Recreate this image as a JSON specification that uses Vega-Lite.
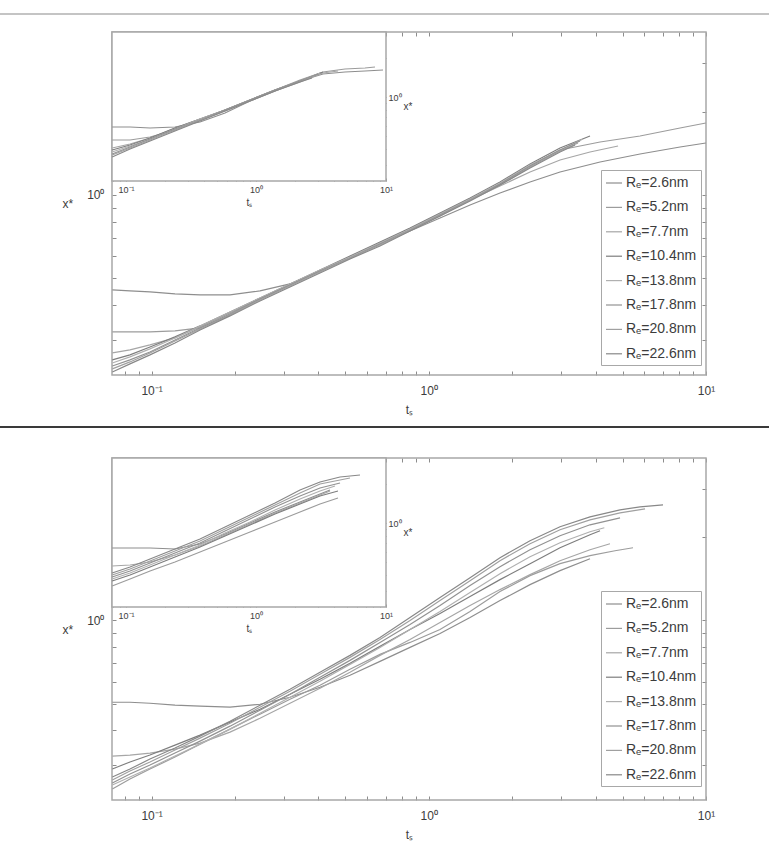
{
  "$schema": "https://vega.github.io/schema/vega-lite/v6.json",
  "width": 769,
  "height": 851,
  "padding": 0,
  "autosize": "none",
  "background": "white",
  "datasets": {
    "topMain": [
      {"R":2.6,"t":0.0722,"xs":0.4541},{"R":2.6,"t":0.0836,"xs":0.4503},{"R":2.6,"t":0.0987,"xs":0.4466},{"R":2.6,"t":0.1215,"xs":0.4392},{"R":2.6,"t":0.1496,"xs":0.4356},{"R":2.6,"t":0.1919,"xs":0.4356},{"R":2.6,"t":0.2461,"xs":0.4503},{"R":2.6,"t":0.3158,"xs":0.4773},{"R":2.6,"t":0.4052,"xs":0.5318},{"R":2.6,"t":0.5198,"xs":0.5924},{"R":2.6,"t":0.6669,"xs":0.6656},{"R":2.6,"t":0.8557,"xs":0.7415},{"R":2.6,"t":1.098,"xs":0.8260},{"R":2.6,"t":1.409,"xs":0.9203},{"R":2.6,"t":1.807,"xs":1.0168},{"R":2.6,"t":2.319,"xs":1.1141},{"R":2.6,"t":2.975,"xs":1.2107},{"R":2.6,"t":4.148,"xs":1.3156},{"R":2.6,"t":5.782,"xs":1.4060},{"R":2.6,"t":8.061,"xs":1.4902},{"R":2.6,"t":9.99,"xs":1.5406},
      {"R":5.2,"t":0.0722,"xs":0.3203},{"R":5.2,"t":0.0836,"xs":0.3203},{"R":5.2,"t":0.0987,"xs":0.3203},{"R":5.2,"t":0.1215,"xs":0.3230},{"R":5.2,"t":0.1496,"xs":0.3311},{"R":5.2,"t":0.1919,"xs":0.3689},{"R":5.2,"t":0.2461,"xs":0.4213},{"R":5.2,"t":0.3158,"xs":0.4734},{"R":5.2,"t":0.4052,"xs":0.5318},{"R":5.2,"t":0.5198,"xs":0.5974},{"R":5.2,"t":0.6669,"xs":0.6711},{"R":5.2,"t":0.8557,"xs":0.7539},{"R":5.2,"t":1.098,"xs":0.8540},{"R":5.2,"t":1.409,"xs":0.9673},{"R":5.2,"t":1.807,"xs":1.0957},{"R":5.2,"t":2.319,"xs":1.2725},{"R":5.2,"t":2.975,"xs":1.4536},{"R":5.2,"t":4.148,"xs":1.5535},{"R":5.2,"t":5.782,"xs":1.6329},{"R":5.2,"t":8.061,"xs":1.7450},{"R":5.2,"t":9.99,"xs":1.8192},
      {"R":7.7,"t":0.0722,"xs":0.2690},{"R":7.7,"t":0.0836,"xs":0.2758},{"R":7.7,"t":0.0987,"xs":0.2875},{"R":7.7,"t":0.1215,"xs":0.3047},{"R":7.7,"t":0.1496,"xs":0.3339},{"R":7.7,"t":0.1919,"xs":0.3751},{"R":7.7,"t":0.2461,"xs":0.4213},{"R":7.7,"t":0.3158,"xs":0.4734},{"R":7.7,"t":0.4052,"xs":0.5318},{"R":7.7,"t":0.5198,"xs":0.5974},{"R":7.7,"t":0.6669,"xs":0.6711},{"R":7.7,"t":0.8557,"xs":0.7539},{"R":7.7,"t":1.098,"xs":0.8540},{"R":7.7,"t":1.409,"xs":0.9594},{"R":7.7,"t":1.807,"xs":1.0776},{"R":7.7,"t":2.319,"xs":1.2107},{"R":7.7,"t":2.975,"xs":1.3377},{"R":7.7,"t":3.816,"xs":1.4296},{"R":7.7,"t":4.817,"xs":1.5026},
      {"R":10.4,"t":0.0722,"xs":0.2538},{"R":10.4,"t":0.0836,"xs":0.2646},{"R":10.4,"t":0.0987,"xs":0.2827},{"R":10.4,"t":0.1215,"xs":0.3073},{"R":10.4,"t":0.1496,"xs":0.3367},{"R":10.4,"t":0.1919,"xs":0.3782},{"R":10.4,"t":0.2461,"xs":0.4248},{"R":10.4,"t":0.3158,"xs":0.4773},{"R":10.4,"t":0.4052,"xs":0.5362},{"R":10.4,"t":0.5198,"xs":0.6024},{"R":10.4,"t":0.6669,"xs":0.6767},{"R":10.4,"t":0.8557,"xs":0.7602},{"R":10.4,"t":1.098,"xs":0.8611},{"R":10.4,"t":1.409,"xs":0.9754},{"R":10.4,"t":1.807,"xs":1.1141},{"R":10.4,"t":2.319,"xs":1.2939},{"R":10.4,"t":2.975,"xs":1.4778},{"R":10.4,"t":3.816,"xs":1.6329},
      {"R":13.8,"t":0.0722,"xs":0.2475},{"R":13.8,"t":0.0836,"xs":0.2602},{"R":13.8,"t":0.0987,"xs":0.2781},{"R":13.8,"t":0.1215,"xs":0.3047},{"R":13.8,"t":0.1496,"xs":0.3367},{"R":13.8,"t":0.1919,"xs":0.3782},{"R":13.8,"t":0.2461,"xs":0.4248},{"R":13.8,"t":0.3158,"xs":0.4773},{"R":13.8,"t":0.4052,"xs":0.5362},{"R":13.8,"t":0.5198,"xs":0.5974},{"R":13.8,"t":0.6669,"xs":0.6711},{"R":13.8,"t":0.8557,"xs":0.7539},{"R":13.8,"t":1.098,"xs":0.8540},{"R":13.8,"t":1.409,"xs":0.9673},{"R":13.8,"t":1.807,"xs":1.1049},{"R":13.8,"t":2.319,"xs":1.2832},{"R":13.8,"t":2.975,"xs":1.4536},{"R":13.8,"t":3.601,"xs":1.5926},
      {"R":17.8,"t":0.0722,"xs":0.2414},{"R":17.8,"t":0.0836,"xs":0.2538},{"R":17.8,"t":0.0987,"xs":0.2712},{"R":17.8,"t":0.1215,"xs":0.2997},{"R":17.8,"t":0.1496,"xs":0.3311},{"R":17.8,"t":0.1919,"xs":0.3720},{"R":17.8,"t":0.2461,"xs":0.4213},{"R":17.8,"t":0.3158,"xs":0.4734},{"R":17.8,"t":0.4052,"xs":0.5318},{"R":17.8,"t":0.5198,"xs":0.5924},{"R":17.8,"t":0.6669,"xs":0.6656},{"R":17.8,"t":0.8557,"xs":0.7477},{"R":17.8,"t":1.098,"xs":0.8469},{"R":17.8,"t":1.409,"xs":0.9594},{"R":17.8,"t":1.807,"xs":1.0957},{"R":17.8,"t":2.319,"xs":1.2725},{"R":17.8,"t":2.975,"xs":1.4536},{"R":17.8,"t":3.512,"xs":1.5665},
      {"R":20.8,"t":0.0722,"xs":0.2355},{"R":20.8,"t":0.0836,"xs":0.2496},{"R":20.8,"t":0.0987,"xs":0.2690},{"R":20.8,"t":0.1215,"xs":0.2972},{"R":20.8,"t":0.1496,"xs":0.3284},{"R":20.8,"t":0.1919,"xs":0.3689},{"R":20.8,"t":0.2461,"xs":0.4179},{"R":20.8,"t":0.3158,"xs":0.4695},{"R":20.8,"t":0.4052,"xs":0.5273},{"R":20.8,"t":0.5198,"xs":0.5924},{"R":20.8,"t":0.6669,"xs":0.6600},{"R":20.8,"t":0.8557,"xs":0.7477},{"R":20.8,"t":1.098,"xs":0.8399},{"R":20.8,"t":1.409,"xs":0.9594},{"R":20.8,"t":1.807,"xs":1.0866},{"R":20.8,"t":2.319,"xs":1.2620},{"R":20.8,"t":2.975,"xs":1.4415},{"R":20.8,"t":3.454,"xs":1.5406},
      {"R":22.6,"t":0.0722,"xs":0.2297},{"R":22.6,"t":0.0836,"xs":0.2455},{"R":22.6,"t":0.0987,"xs":0.2646},{"R":22.6,"t":0.1215,"xs":0.2923},{"R":22.6,"t":0.1496,"xs":0.3257},{"R":22.6,"t":0.1919,"xs":0.3659},{"R":22.6,"t":0.2461,"xs":0.4144},{"R":22.6,"t":0.3158,"xs":0.4656},{"R":22.6,"t":0.4052,"xs":0.5230},{"R":22.6,"t":0.5198,"xs":0.5875},{"R":22.6,"t":0.6669,"xs":0.6546},{"R":22.6,"t":0.8557,"xs":0.7415},{"R":22.6,"t":1.098,"xs":0.8399},{"R":22.6,"t":1.409,"xs":0.9514},{"R":22.6,"t":1.807,"xs":1.0866},{"R":22.6,"t":2.319,"xs":1.2515},{"R":22.6,"t":2.975,"xs":1.4296},{"R":22.6,"t":3.370,"xs":1.5152}
    ],
    "botMain": [
      {"R":2.6,"t":0.0722,"xs":0.5058},{"R":2.6,"t":0.0836,"xs":0.5058},{"R":2.6,"t":0.0987,"xs":0.5017},{"R":2.6,"t":0.1215,"xs":0.4935},{"R":2.6,"t":0.1496,"xs":0.4894},{"R":2.6,"t":0.1919,"xs":0.4854},{"R":2.6,"t":0.2461,"xs":0.4975},{"R":2.6,"t":0.3158,"xs":0.5273},{"R":2.6,"t":0.4052,"xs":0.5731},{"R":2.6,"t":0.5198,"xs":0.6332},{"R":2.6,"t":0.6669,"xs":0.7113},{"R":2.6,"t":0.8557,"xs":0.7991},{"R":2.6,"t":1.098,"xs":0.8976},{"R":2.6,"t":1.409,"xs":1.0253},{"R":2.6,"t":1.807,"xs":1.1808},{"R":2.6,"t":2.319,"xs":1.3487},{"R":2.6,"t":2.975,"xs":1.5152},{"R":2.6,"t":3.816,"xs":1.6742},
      {"R":5.2,"t":0.0722,"xs":0.2455},{"R":5.2,"t":0.0836,"xs":0.2668},{"R":5.2,"t":0.0987,"xs":0.2899},{"R":5.2,"t":0.1215,"xs":0.3203},{"R":5.2,"t":0.1496,"xs":0.3568},{"R":5.2,"t":0.1919,"xs":0.4042},{"R":5.2,"t":0.2461,"xs":0.4579},{"R":5.2,"t":0.3158,"xs":0.5186},{"R":5.2,"t":0.4052,"xs":0.5827},{"R":5.2,"t":0.5198,"xs":0.6656},{"R":5.2,"t":0.6669,"xs":0.7539},{"R":5.2,"t":0.8557,"xs":0.8329},{"R":5.2,"t":1.098,"xs":0.9280},{"R":5.2,"t":1.409,"xs":1.0776},{"R":5.2,"t":1.807,"xs":1.2725},{"R":5.2,"t":2.319,"xs":1.4536},{"R":5.2,"t":2.975,"xs":1.6059},{"R":5.2,"t":3.816,"xs":1.7165},{"R":5.2,"t":4.697,"xs":1.7892},{"R":5.2,"t":5.455,"xs":1.8344},
      {"R":7.7,"t":0.0722,"xs":0.3230},{"R":7.7,"t":0.0836,"xs":0.3257},{"R":7.7,"t":0.0987,"xs":0.3311},{"R":7.7,"t":0.1215,"xs":0.3423},{"R":7.7,"t":0.1496,"xs":0.3598},{"R":7.7,"t":0.1919,"xs":0.3942},{"R":7.7,"t":0.2461,"xs":0.4429},{"R":7.7,"t":0.3158,"xs":0.5017},{"R":7.7,"t":0.4052,"xs":0.5683},{"R":7.7,"t":0.5198,"xs":0.6492},{"R":7.7,"t":0.6669,"xs":0.7477},{"R":7.7,"t":0.8557,"xs":0.8540},{"R":7.7,"t":1.098,"xs":0.9835},{"R":7.7,"t":1.409,"xs":1.1328},{"R":7.7,"t":1.807,"xs":1.2939},{"R":7.7,"t":2.319,"xs":1.4656},{"R":7.7,"t":2.975,"xs":1.6465},{"R":7.7,"t":3.816,"xs":1.8041},{"R":7.7,"t":4.505,"xs":1.8963},
      {"R":10.4,"t":0.0722,"xs":0.2899},{"R":10.4,"t":0.0836,"xs":0.3073},{"R":10.4,"t":0.0987,"xs":0.3257},{"R":10.4,"t":0.1215,"xs":0.3539},{"R":10.4,"t":0.1496,"xs":0.3846},{"R":10.4,"t":0.1919,"xs":0.4284},{"R":10.4,"t":0.2461,"xs":0.4773},{"R":10.4,"t":0.3158,"xs":0.5406},{"R":10.4,"t":0.4052,"xs":0.6125},{"R":10.4,"t":0.5198,"xs":0.6995},{"R":10.4,"t":0.6669,"xs":0.8058},{"R":10.4,"t":0.8557,"xs":0.9280},{"R":10.4,"t":1.098,"xs":1.0598},{"R":10.4,"t":1.409,"xs":1.2208},{"R":10.4,"t":1.807,"xs":1.4060},{"R":10.4,"t":2.319,"xs":1.6059},{"R":10.4,"t":2.975,"xs":1.8344},{"R":10.4,"t":3.816,"xs":2.0435},{"R":10.4,"t":4.148,"xs":2.1127},
      {"R":13.8,"t":0.0722,"xs":0.2538},{"R":13.8,"t":0.0836,"xs":0.2712},{"R":13.8,"t":0.0987,"xs":0.2923},{"R":13.8,"t":0.1215,"xs":0.3230},{"R":13.8,"t":0.1496,"xs":0.3568},{"R":13.8,"t":0.1919,"xs":0.4042},{"R":13.8,"t":0.2461,"xs":0.4617},{"R":13.8,"t":0.3158,"xs":0.5273},{"R":13.8,"t":0.4052,"xs":0.6024},{"R":13.8,"t":0.5198,"xs":0.6937},{"R":13.8,"t":0.6669,"xs":0.7991},{"R":13.8,"t":0.8557,"xs":0.9280},{"R":13.8,"t":1.098,"xs":1.0776},{"R":13.8,"t":1.409,"xs":1.2620},{"R":13.8,"t":1.807,"xs":1.4778},{"R":13.8,"t":2.319,"xs":1.7023},{"R":13.8,"t":2.975,"xs":1.9122},{"R":13.8,"t":3.816,"xs":2.0952},{"R":13.8,"t":4.298,"xs":2.1661},
      {"R":17.8,"t":0.0722,"xs":0.2580},{"R":17.8,"t":0.0836,"xs":0.2781},{"R":17.8,"t":0.0987,"xs":0.2997},{"R":17.8,"t":0.1215,"xs":0.3311},{"R":17.8,"t":0.1496,"xs":0.3659},{"R":17.8,"t":0.1919,"xs":0.4144},{"R":17.8,"t":0.2461,"xs":0.4734},{"R":17.8,"t":0.3158,"xs":0.5406},{"R":17.8,"t":0.4052,"xs":0.6227},{"R":17.8,"t":0.5198,"xs":0.7172},{"R":17.8,"t":0.6669,"xs":0.8329},{"R":17.8,"t":0.8557,"xs":0.9673},{"R":17.8,"t":1.098,"xs":1.1328},{"R":17.8,"t":1.409,"xs":1.3377},{"R":17.8,"t":1.807,"xs":1.5665},{"R":17.8,"t":2.319,"xs":1.8041},{"R":17.8,"t":2.975,"xs":2.0269},{"R":17.8,"t":3.816,"xs":2.2206},{"R":17.8,"t":4.897,"xs":2.3539},
      {"R":20.8,"t":0.0722,"xs":0.2646},{"R":20.8,"t":0.0836,"xs":0.2851},{"R":20.8,"t":0.0987,"xs":0.3073},{"R":20.8,"t":0.1215,"xs":0.3395},{"R":20.8,"t":0.1496,"xs":0.3751},{"R":20.8,"t":0.1919,"xs":0.4248},{"R":20.8,"t":0.2461,"xs":0.4854},{"R":20.8,"t":0.3158,"xs":0.5543},{"R":20.8,"t":0.4052,"xs":0.6384},{"R":20.8,"t":0.5198,"xs":0.7354},{"R":20.8,"t":0.6669,"xs":0.8540},{"R":20.8,"t":0.8557,"xs":1.0000},{"R":20.8,"t":1.098,"xs":1.1808},{"R":20.8,"t":1.409,"xs":1.3943},{"R":20.8,"t":1.807,"xs":1.6465},{"R":20.8,"t":2.319,"xs":1.8963},{"R":20.8,"t":2.975,"xs":2.1304},{"R":20.8,"t":3.816,"xs":2.3150},{"R":20.8,"t":4.897,"xs":2.4536},{"R":20.8,"t":6.027,"xs":2.5367},
      {"R":22.6,"t":0.0722,"xs":0.2712},{"R":22.6,"t":0.0836,"xs":0.2899},{"R":22.6,"t":0.0987,"xs":0.3150},{"R":22.6,"t":0.1215,"xs":0.3452},{"R":22.6,"t":0.1496,"xs":0.3814},{"R":22.6,"t":0.1919,"xs":0.4320},{"R":22.6,"t":0.2461,"xs":0.4935},{"R":22.6,"t":0.3158,"xs":0.5636},{"R":22.6,"t":0.4052,"xs":0.6492},{"R":22.6,"t":0.5198,"xs":0.7477},{"R":22.6,"t":0.6669,"xs":0.8683},{"R":22.6,"t":0.8557,"xs":1.0253},{"R":22.6,"t":1.098,"xs":1.2107},{"R":22.6,"t":1.409,"xs":1.4296},{"R":22.6,"t":1.807,"xs":1.6882},{"R":22.6,"t":2.319,"xs":1.9443},{"R":22.6,"t":2.975,"xs":2.1842},{"R":22.6,"t":3.816,"xs":2.3736},{"R":22.6,"t":4.897,"xs":2.5156},{"R":22.6,"t":5.782,"xs":2.5792},{"R":22.6,"t":6.998,"xs":2.6225}
    ],
    "topInset": [
      {"R":2.6,"t":0.0782,"xs":0.5878},{"R":2.6,"t":0.1074,"xs":0.5878},{"R":2.6,"t":0.1530,"xs":0.5775},{"R":2.6,"t":0.2381,"xs":0.5878},{"R":2.6,"t":0.3709,"xs":0.6423},{"R":2.6,"t":0.5776,"xs":0.7532},{"R":2.6,"t":0.8993,"xs":0.9316},{"R":2.6,"t":1.4003,"xs":1.1121},{"R":2.6,"t":2.180,"xs":1.3276},{"R":2.6,"t":3.277,"xs":1.5029},{"R":2.6,"t":4.837,"xs":1.5571},{"R":2.6,"t":6.895,"xs":1.5849},{"R":2.6,"t":9.483,"xs":1.6132},
      {"R":5.2,"t":0.0782,"xs":0.4669},{"R":5.2,"t":0.1074,"xs":0.4669},{"R":5.2,"t":0.1530,"xs":0.4924},{"R":5.2,"t":0.2381,"xs":0.5574},{"R":5.2,"t":0.3709,"xs":0.6654},{"R":5.2,"t":0.5776,"xs":0.7943},{"R":5.2,"t":0.8993,"xs":0.9482},{"R":5.2,"t":1.4003,"xs":1.1320},{"R":5.2,"t":2.180,"xs":1.3513},{"R":5.2,"t":3.277,"xs":1.5571},{"R":5.2,"t":4.837,"xs":1.6421},{"R":5.2,"t":6.895,"xs":1.6715},{"R":5.2,"t":8.230,"xs":1.7013},
      {"R":7.7,"t":0.0782,"xs":0.4052},{"R":7.7,"t":0.1074,"xs":0.4350},{"R":7.7,"t":0.1530,"xs":0.4838},{"R":7.7,"t":0.2381,"xs":0.5775},{"R":7.7,"t":0.3709,"xs":0.6773},{"R":7.7,"t":0.5776,"xs":0.7943},{"R":7.7,"t":0.8993,"xs":0.9482},{"R":7.7,"t":1.4003,"xs":1.1320},{"R":7.7,"t":2.180,"xs":1.3276},{"R":7.7,"t":3.277,"xs":1.5298},{"R":7.7,"t":4.273,"xs":1.5849},
      {"R":10.4,"t":0.0782,"xs":0.3911},{"R":10.4,"t":0.1074,"xs":0.4273},{"R":10.4,"t":0.1530,"xs":0.4838},{"R":10.4,"t":0.2381,"xs":0.5775},{"R":10.4,"t":0.3709,"xs":0.6773},{"R":10.4,"t":0.5776,"xs":0.7943},{"R":10.4,"t":0.8993,"xs":0.9482},{"R":10.4,"t":1.4003,"xs":1.1320},{"R":10.4,"t":2.180,"xs":1.3276},{"R":10.4,"t":3.277,"xs":1.5571},
      {"R":13.8,"t":0.0782,"xs":0.3775},{"R":13.8,"t":0.1074,"xs":0.4198},{"R":13.8,"t":0.1530,"xs":0.4753},{"R":13.8,"t":0.2381,"xs":0.5674},{"R":13.8,"t":0.3709,"xs":0.6773},{"R":13.8,"t":0.5776,"xs":0.7943},{"R":13.8,"t":0.8993,"xs":0.9482},{"R":13.8,"t":1.4003,"xs":1.1320},{"R":13.8,"t":2.180,"xs":1.3276},{"R":13.8,"t":3.107,"xs":1.5298},
      {"R":17.8,"t":0.0782,"xs":0.3644},{"R":17.8,"t":0.1074,"xs":0.4125},{"R":17.8,"t":0.1530,"xs":0.4753},{"R":17.8,"t":0.2381,"xs":0.5674},{"R":17.8,"t":0.3709,"xs":0.6654},{"R":17.8,"t":0.5776,"xs":0.7943},{"R":17.8,"t":0.8993,"xs":0.9482},{"R":17.8,"t":1.4003,"xs":1.1320},{"R":17.8,"t":2.180,"xs":1.3276},{"R":17.8,"t":2.999,"xs":1.5029},
      {"R":20.8,"t":0.0782,"xs":0.3580},{"R":20.8,"t":0.1074,"xs":0.4052},{"R":20.8,"t":0.1530,"xs":0.4669},{"R":20.8,"t":0.2381,"xs":0.5574},{"R":20.8,"t":0.3709,"xs":0.6654},{"R":20.8,"t":0.5776,"xs":0.7804},{"R":20.8,"t":0.8993,"xs":0.9316},{"R":20.8,"t":1.4003,"xs":1.1121},{"R":20.8,"t":2.180,"xs":1.3043},{"R":20.8,"t":2.843,"xs":1.4506},
      {"R":22.6,"t":0.0782,"xs":0.3455},{"R":22.6,"t":0.1074,"xs":0.3981},{"R":22.6,"t":0.1530,"xs":0.4587},{"R":22.6,"t":0.2381,"xs":0.5476},{"R":22.6,"t":0.3709,"xs":0.6537},{"R":22.6,"t":0.5776,"xs":0.7804},{"R":22.6,"t":0.8993,"xs":0.9316},{"R":22.6,"t":1.4003,"xs":1.1121},{"R":22.6,"t":2.180,"xs":1.3043},{"R":22.6,"t":2.697,"xs":1.4000}
    ],
    "botInset": [
      {"R":2.6,"t":0.0782,"xs":0.6423},{"R":2.6,"t":0.1074,"xs":0.6423},{"R":2.6,"t":0.1530,"xs":0.6423},{"R":2.6,"t":0.2381,"xs":0.6310},{"R":2.6,"t":0.3709,"xs":0.6894},{"R":2.6,"t":0.5776,"xs":0.8230},{"R":2.6,"t":0.8993,"xs":1.0000},{"R":2.6,"t":1.4003,"xs":1.2151},{"R":2.6,"t":2.180,"xs":1.4506},{"R":2.6,"t":3.107,"xs":1.6715},{"R":2.6,"t":3.709,"xs":1.7941},
      {"R":5.2,"t":0.0782,"xs":0.3276},{"R":5.2,"t":0.1074,"xs":0.3709},{"R":5.2,"t":0.1530,"xs":0.4273},{"R":5.2,"t":0.2381,"xs":0.5012},{"R":5.2,"t":0.3709,"xs":0.5983},{"R":5.2,"t":0.5776,"xs":0.7143},{"R":5.2,"t":0.8993,"xs":0.8526},{"R":5.2,"t":1.4003,"xs":1.0179},{"R":5.2,"t":2.180,"xs":1.2151},{"R":5.2,"t":3.107,"xs":1.4000},{"R":5.2,"t":4.273,"xs":1.5571},
      {"R":7.7,"t":0.0782,"xs":0.4669},{"R":7.7,"t":0.1074,"xs":0.4753},{"R":7.7,"t":0.1530,"xs":0.5012},{"R":7.7,"t":0.2381,"xs":0.5674},{"R":7.7,"t":0.3709,"xs":0.6654},{"R":7.7,"t":0.5776,"xs":0.8085},{"R":7.7,"t":0.8993,"xs":0.9824},{"R":7.7,"t":1.4003,"xs":1.1937},{"R":7.7,"t":2.180,"xs":1.4252},{"R":7.7,"t":3.107,"xs":1.6421},{"R":7.7,"t":3.709,"xs":1.7627},
      {"R":10.4,"t":0.0782,"xs":0.3580},{"R":10.4,"t":0.1074,"xs":0.3981},{"R":10.4,"t":0.1530,"xs":0.4587},{"R":10.4,"t":0.2381,"xs":0.5476},{"R":10.4,"t":0.3709,"xs":0.6537},{"R":10.4,"t":0.5776,"xs":0.7943},{"R":10.4,"t":0.8993,"xs":0.9651},{"R":10.4,"t":1.4003,"xs":1.1728},{"R":10.4,"t":2.180,"xs":1.4000},{"R":10.4,"t":3.107,"xs":1.6132},{"R":10.4,"t":4.273,"xs":1.7627},
      {"R":13.8,"t":0.0782,"xs":0.3709},{"R":13.8,"t":0.1074,"xs":0.4125},{"R":13.8,"t":0.1530,"xs":0.4753},{"R":13.8,"t":0.2381,"xs":0.5674},{"R":13.8,"t":0.3709,"xs":0.6773},{"R":13.8,"t":0.5776,"xs":0.8377},{"R":13.8,"t":0.8993,"xs":1.0179},{"R":13.8,"t":1.4003,"xs":1.2589},{"R":13.8,"t":2.180,"xs":1.5298},{"R":13.8,"t":3.107,"xs":1.7627},{"R":13.8,"t":4.053,"xs":1.9258},
      {"R":17.8,"t":0.0782,"xs":0.3842},{"R":17.8,"t":0.1074,"xs":0.4273},{"R":17.8,"t":0.1530,"xs":0.4924},{"R":17.8,"t":0.2381,"xs":0.5878},{"R":17.8,"t":0.3709,"xs":0.7017},{"R":17.8,"t":0.5776,"xs":0.8679},{"R":17.8,"t":0.8993,"xs":1.0734},{"R":17.8,"t":1.4003,"xs":1.3276},{"R":17.8,"t":2.180,"xs":1.6132},{"R":17.8,"t":3.107,"xs":1.8588},{"R":17.8,"t":4.429,"xs":2.0310},
      {"R":20.8,"t":0.0782,"xs":0.3981},{"R":20.8,"t":0.1074,"xs":0.4427},{"R":20.8,"t":0.1530,"xs":0.5102},{"R":20.8,"t":0.2381,"xs":0.6090},{"R":20.8,"t":0.3709,"xs":0.7270},{"R":20.8,"t":0.5776,"xs":0.8991},{"R":20.8,"t":0.8993,"xs":1.1121},{"R":20.8,"t":1.4003,"xs":1.3754},{"R":20.8,"t":2.180,"xs":1.7013},{"R":20.8,"t":3.107,"xs":1.9952},{"R":20.8,"t":5.285,"xs":2.2190},
      {"R":22.6,"t":0.0782,"xs":0.4125},{"R":22.6,"t":0.1074,"xs":0.4587},{"R":22.6,"t":0.1530,"xs":0.5286},{"R":22.6,"t":0.2381,"xs":0.6310},{"R":22.6,"t":0.3709,"xs":0.7532},{"R":22.6,"t":0.5776,"xs":0.9316},{"R":22.6,"t":0.8993,"xs":1.1522},{"R":22.6,"t":1.4003,"xs":1.4252},{"R":22.6,"t":2.180,"xs":1.7941},{"R":22.6,"t":3.107,"xs":2.0673},{"R":22.6,"t":4.429,"xs":2.2587},{"R":22.6,"t":6.310,"xs":2.3401}
    ]
  },
  "layer": [
    {
      "description": "page rules: thin header line and heavy separator between the two figures",
      "data": {"values": [{"line": "header"}, {"line": "split"}]},
      "mark": {"type": "rule", "strokeWidth": 2},
      "encoding": {
        "y": {"field": "line", "type": "nominal", "scale": {"type": "point", "domain": ["header", "split"], "range": [14, 427], "padding": 0}, "axis": null},
        "color": {"field": "line", "type": "nominal", "scale": {"domain": ["header", "split"], "range": ["#c4c4c4", "#3a3a3a"]}, "legend": null}
      }
    },
    {
      "description": "upper figure: box with ticks on top and right",
      "data": {"values": [{}]},
      "mark": {"type": "rect", "fillOpacity": 0, "stroke": "#a8a8a8", "strokeWidth": 1.5},
      "encoding": {
        "x": {"datum": 0.072, "type": "quantitative", "scale": {"type": "log", "domain": [0.072, 10], "range": [112, 706], "nice": false},
              "axis": {"orient": "top", "offset": -32, "labels": false, "title": null, "tickSize": -4, "values": [0.08,0.09,0.1,0.2,0.3,0.4,0.5,0.6,0.7,0.8,0.9,1,2,3,4,5,6,7,8,9,10]}},
        "x2": {"datum": 10},
        "y": {"datum": 0.2239, "type": "quantitative", "scale": {"type": "log", "domain": [0.2239, 3.876], "range": [375, 32], "nice": false},
              "axis": {"orient": "right", "offset": -63, "labels": false, "title": null, "tickSize": -4, "values": [0.3,0.4,0.5,0.6,0.7,0.8,0.9,1,2,3]}},
        "y2": {"datum": 3.876}
      }
    },
    {
      "description": "upper figure: main curves",
      "data": {"name": "topMain"},
      "mark": {"type": "line", "strokeWidth": 1.2},
      "encoding": {
        "x": {"field": "t", "type": "quantitative", "scale": {"type": "log", "domain": [0.072, 10], "range": [112, 706], "nice": false},
              "axis": {"orient": "bottom", "offset": -476, "tickSize": -4, "labelPadding": 14, "values": [0.08,0.09,0.1,0.2,0.3,0.4,0.5,0.6,0.7,0.8,0.9,1,2,3,4,5,6,7,8,9,10],
                       "labelExpr": "datum.value == 0.1 ? '10⁻¹' : datum.value == 1 ? '10⁰' : datum.value == 10 ? '10¹' : ''", "title": "tₛ", "titlePadding": 8}},
        "y": {"field": "xs", "type": "quantitative", "scale": {"type": "log", "domain": [0.2239, 3.876], "range": [375, 32], "nice": false},
              "axis": {"orient": "left", "offset": -112, "tickSize": -4, "labelPadding": 12, "values": [0.3,0.4,0.5,0.6,0.7,0.8,0.9,1,2,3],
                       "labelExpr": "datum.value == 1 ? '10⁰' : ''", "title": "x*", "titleAngle": 0, "titleAlign": "right", "titleBaseline": "middle", "titlePadding": 14}},
        "color": {"field": "R", "type": "nominal",
                  "scale": {"domain": [2.6, 5.2, 7.7, 10.4, 13.8, 17.8, 20.8, 22.6], "range": ["#8e8e8e", "#9c9c9c", "#a6a6a6", "#7e7e7e", "#b0b0b0", "#929292", "#a0a0a0", "#888888"]},
                  "legend": {"orient": "none", "legendX": 601, "legendY": 170, "title": null, "symbolType": "stroke", "symbolSize": 256, "symbolStrokeWidth": 1.2,
                             "labelExpr": "'Rₑ=' + datum.label + 'nm'", "labelFontSize": 14, "labelFont": "Liberation Sans", "labelColor": "#3c3c3c", "labelOffset": 3,
                             "rowPadding": 8.4, "padding": 4, "strokeColor": "#a8a8a8", "fillColor": "white", "cornerRadius": 0}}
      }
    },
    {
      "description": "upper figure: inset box",
      "data": {"values": [{}]},
      "mark": {"type": "rect", "fill": "white", "stroke": "#a8a8a8", "strokeWidth": 1.5},
      "encoding": {
        "x": {"datum": 0.078, "type": "quantitative", "scale": {"type": "log", "domain": [0.078, 10], "range": [112, 386], "nice": false}, "axis": null},
        "x2": {"datum": 10},
        "y": {"datum": 0.2259, "type": "quantitative", "scale": {"type": "log", "domain": [0.2259, 3.162], "range": [181, 32], "nice": false}, "axis": null},
        "y2": {"datum": 3.162}
      }
    },
    {
      "description": "upper figure: inset curves",
      "data": {"name": "topInset"},
      "mark": {"type": "line", "strokeWidth": 1.2},
      "encoding": {
        "x": {"field": "t", "type": "quantitative", "scale": {"type": "log", "domain": [0.078, 10], "range": [112, 386], "nice": false},
              "axis": {"orient": "bottom", "offset": -670, "tickSize": -3, "labelPadding": 7, "labelFontSize": 9, "values": [0.08,0.09,0.1,0.2,0.3,0.4,0.5,0.6,0.7,0.8,0.9,1,2,3,4,5,6,7,8,9,10],
                       "labelExpr": "datum.value == 0.1 ? '10⁻¹' : datum.value == 1 ? '10⁰' : datum.value == 10 ? '10¹' : ''", "title": "tₛ", "titleFontSize": 10, "titlePadding": 3}},
        "y": {"field": "xs", "type": "quantitative", "scale": {"type": "log", "domain": [0.2259, 3.162], "range": [181, 32], "nice": false},
              "axis": {"orient": "right", "offset": -383, "tickSize": -3, "labelPadding": 5, "labelFontSize": 9, "values": [0.3,0.4,0.5,0.6,0.7,0.8,0.9,1,2,3],
                       "labelExpr": "datum.value == 1 ? '10⁰' : ''", "title": "x*", "titleFontSize": 10, "titleAngle": 0, "titleAlign": "left", "titleBaseline": "middle", "titlePadding": 2}},
        "color": {"field": "R", "type": "nominal",
                  "scale": {"domain": [2.6, 5.2, 7.7, 10.4, 13.8, 17.8, 20.8, 22.6], "range": ["#8e8e8e", "#9c9c9c", "#a6a6a6", "#7e7e7e", "#b0b0b0", "#929292", "#a0a0a0", "#888888"]},
                  "legend": null}
      }
    },
    {
      "description": "lower figure: box with ticks on top and right",
      "data": {"values": [{}]},
      "mark": {"type": "rect", "fillOpacity": 0, "stroke": "#a8a8a8", "strokeWidth": 1.5},
      "encoding": {
        "x": {"datum": 0.072, "type": "quantitative", "scale": {"type": "log", "domain": [0.072, 10], "range": [112, 706], "nice": false},
              "axis": {"orient": "top", "offset": -458, "labels": false, "title": null, "tickSize": -4, "values": [0.08,0.09,0.1,0.2,0.3,0.4,0.5,0.6,0.7,0.8,0.9,1,2,3,4,5,6,7,8,9,10]}},
        "x2": {"datum": 10},
        "y": {"datum": 0.2239, "type": "quantitative", "scale": {"type": "log", "domain": [0.2239, 3.876], "range": [800, 458], "nice": false},
              "axis": {"orient": "right", "offset": -63, "labels": false, "title": null, "tickSize": -4, "values": [0.3,0.4,0.5,0.6,0.7,0.8,0.9,1,2,3]}},
        "y2": {"datum": 3.876}
      }
    },
    {
      "description": "lower figure: main curves",
      "data": {"name": "botMain"},
      "mark": {"type": "line", "strokeWidth": 1.2},
      "encoding": {
        "x": {"field": "t", "type": "quantitative", "scale": {"type": "log", "domain": [0.072, 10], "range": [112, 706], "nice": false},
              "axis": {"orient": "bottom", "offset": -51, "tickSize": -4, "labelPadding": 14, "values": [0.08,0.09,0.1,0.2,0.3,0.4,0.5,0.6,0.7,0.8,0.9,1,2,3,4,5,6,7,8,9,10],
                       "labelExpr": "datum.value == 0.1 ? '10⁻¹' : datum.value == 1 ? '10⁰' : datum.value == 10 ? '10¹' : ''", "title": "tₛ", "titlePadding": 8}},
        "y": {"field": "xs", "type": "quantitative", "scale": {"type": "log", "domain": [0.2239, 3.876], "range": [800, 458], "nice": false},
              "axis": {"orient": "left", "offset": -112, "tickSize": -4, "labelPadding": 12, "values": [0.3,0.4,0.5,0.6,0.7,0.8,0.9,1,2,3],
                       "labelExpr": "datum.value == 1 ? '10⁰' : ''", "title": "x*", "titleAngle": 0, "titleAlign": "right", "titleBaseline": "middle", "titlePadding": 14}},
        "color": {"field": "R", "type": "nominal",
                  "scale": {"domain": [2.6, 5.2, 7.7, 10.4, 13.8, 17.8, 20.8, 22.6], "range": ["#8e8e8e", "#9c9c9c", "#a6a6a6", "#7e7e7e", "#b0b0b0", "#929292", "#a0a0a0", "#888888"]},
                  "legend": {"orient": "none", "legendX": 601, "legendY": 591, "title": null, "symbolType": "stroke", "symbolSize": 256, "symbolStrokeWidth": 1.2,
                             "labelExpr": "'Rₑ=' + datum.label + 'nm'", "labelFontSize": 14, "labelFont": "Liberation Sans", "labelColor": "#3c3c3c", "labelOffset": 3,
                             "rowPadding": 8.4, "padding": 4, "strokeColor": "#a8a8a8", "fillColor": "white", "cornerRadius": 0}}
      }
    },
    {
      "description": "lower figure: inset box",
      "data": {"values": [{}]},
      "mark": {"type": "rect", "fill": "white", "stroke": "#a8a8a8", "strokeWidth": 1.5},
      "encoding": {
        "x": {"datum": 0.078, "type": "quantitative", "scale": {"type": "log", "domain": [0.078, 10], "range": [112, 386], "nice": false}, "axis": null},
        "x2": {"datum": 10},
        "y": {"datum": 0.2259, "type": "quantitative", "scale": {"type": "log", "domain": [0.2259, 3.162], "range": [607, 458], "nice": false}, "axis": null},
        "y2": {"datum": 3.162}
      }
    },
    {
      "description": "lower figure: inset curves",
      "data": {"name": "botInset"},
      "mark": {"type": "line", "strokeWidth": 1.2},
      "encoding": {
        "x": {"field": "t", "type": "quantitative", "scale": {"type": "log", "domain": [0.078, 10], "range": [112, 386], "nice": false},
              "axis": {"orient": "bottom", "offset": -244, "tickSize": -3, "labelPadding": 7, "labelFontSize": 9, "values": [0.08,0.09,0.1,0.2,0.3,0.4,0.5,0.6,0.7,0.8,0.9,1,2,3,4,5,6,7,8,9,10],
                       "labelExpr": "datum.value == 0.1 ? '10⁻¹' : datum.value == 1 ? '10⁰' : datum.value == 10 ? '10¹' : ''", "title": "tₛ", "titleFontSize": 10, "titlePadding": 3}},
        "y": {"field": "xs", "type": "quantitative", "scale": {"type": "log", "domain": [0.2259, 3.162], "range": [607, 458], "nice": false},
              "axis": {"orient": "right", "offset": -383, "tickSize": -3, "labelPadding": 5, "labelFontSize": 9, "values": [0.3,0.4,0.5,0.6,0.7,0.8,0.9,1,2,3],
                       "labelExpr": "datum.value == 1 ? '10⁰' : ''", "title": "x*", "titleFontSize": 10, "titleAngle": 0, "titleAlign": "left", "titleBaseline": "middle", "titlePadding": 2}},
        "color": {"field": "R", "type": "nominal",
                  "scale": {"domain": [2.6, 5.2, 7.7, 10.4, 13.8, 17.8, 20.8, 22.6], "range": ["#8e8e8e", "#9c9c9c", "#a6a6a6", "#7e7e7e", "#b0b0b0", "#929292", "#a0a0a0", "#888888"]},
                  "legend": null}
      }
    }
  ],
  "resolve": {
    "scale": {"x": "independent", "y": "independent", "color": "independent"},
    "axis": {"x": "independent", "y": "independent"},
    "legend": {"color": "independent"}
  },
  "config": {
    "view": {"stroke": null},
    "axis": {"grid": false, "domain": false, "labelFont": "Liberation Sans", "labelFontSize": 12, "labelColor": "#3c3c3c",
             "tickColor": "#8c8c8c", "tickWidth": 1, "titleFont": "Liberation Sans", "titleFontSize": 12, "titleFontWeight": "normal",
             "titleColor": "#3c3c3c", "labelOverlap": false, "labelFlush": false}
  }
}
